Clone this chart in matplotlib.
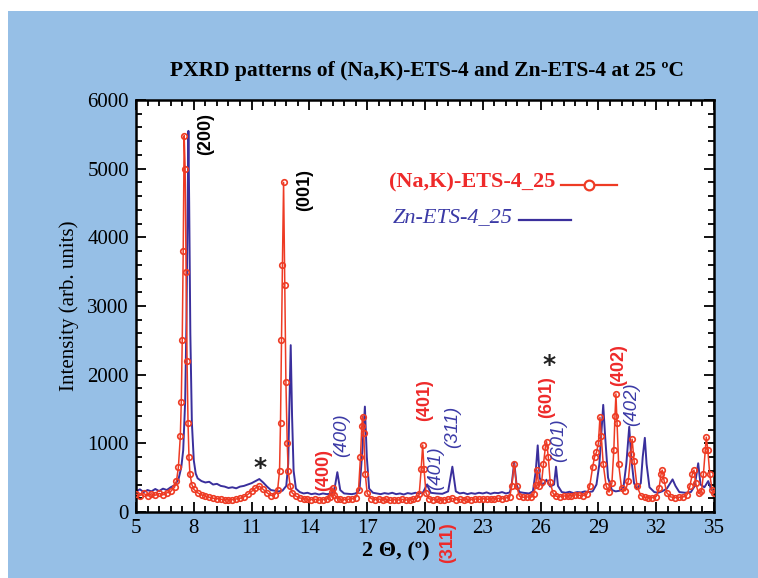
import matplotlib.pyplot as plt
from matplotlib.patches import Rectangle
from matplotlib.ticker import MultipleLocator

### (Na,K)-ETS-4_25
red_2theta = [5.0, 5.2, 5.4, 5.6, 5.8, 6.0, 6.2, 6.4, 6.6, 6.8, 7.0, 7.1, 7.2, 7.3, 7.35, 7.4, 7.45, 7.5,
              7.55, 7.6, 7.65, 7.7, 7.75, 7.8, 7.9, 8.0, 8.2, 8.4, 8.6, 8.8, 9.0, 9.2, 9.4, 9.6, 9.8,
              10.0, 10.2, 10.4, 10.6, 10.8, 11.0, 11.2, 11.4, 11.6, 11.8, 12.0, 12.2, 12.35, 12.45, 12.5,
              12.55, 12.6, 12.66, 12.72, 12.78, 12.85, 12.9, 13.0,
              13.1, 13.3, 13.5, 13.7, 13.9, 14.1, 14.3, 14.5, 14.7, 14.9, 15.05, 15.15, 15.22, 15.3, 15.45,
              15.6, 15.8, 16.0, 16.2, 16.4, 16.55, 16.65, 16.72, 16.76, 16.82, 16.9, 17.0,
              17.2, 17.4, 17.6, 17.8, 18.0, 18.2, 18.4, 18.6, 18.8, 19.0, 19.2, 19.4, 19.6, 19.7, 19.8,
              19.88, 19.95, 20.05, 20.2, 20.4, 20.6, 20.8, 21.0, 21.2, 21.4, 21.6, 21.8, 22.0, 22.2, 22.4,
              22.6, 22.8, 23.0, 23.2, 23.4, 23.6, 23.8, 24.0, 24.2, 24.4, 24.5, 24.63, 24.75, 24.9, 25.1,
              25.3, 25.5, 25.65, 25.75, 25.82, 25.9, 26.05, 26.15, 26.25, 26.31, 26.4, 26.5, 26.65, 26.8,
              27.0, 27.2, 27.4, 27.6, 27.8, 28.0, 28.2, 28.4, 28.55, 28.7, 28.8, 28.9, 29.0, 29.08, 29.15,
              29.25, 29.4, 29.55, 29.7, 29.8, 29.86, 29.91, 29.97, 30.05, 30.2, 30.4, 30.55, 30.68, 30.75,
              30.85, 31.0, 31.2, 31.4, 31.6, 31.8, 32.0, 32.15, 32.25, 32.31, 32.4, 32.55, 32.75, 33.0,
              33.2, 33.4, 33.6, 33.75, 33.88, 33.96, 34.05, 34.2, 34.35, 34.45, 34.55, 34.6, 34.68, 34.78,
              34.9, 35.0]
red_counts = [260, 240, 270, 235, 265, 245, 270, 250, 280, 300, 360, 450, 650, 1100, 1600, 2500, 3800, 5480,
              5000, 3500, 2200, 1300, 800, 550, 400, 330, 280, 250, 230, 215, 200, 195, 185, 180, 178,
              180, 190, 200, 220, 255, 300, 350, 375, 330, 280, 240, 250, 320, 600, 1300,
              2500, 3600, 4800, 3300, 1900, 1000, 600, 380,
              280, 230, 205, 195, 185, 180, 185, 175, 180, 190, 215, 290, 350, 250, 195,
              185, 180, 185, 190, 210, 320, 800, 1250, 1390, 1150, 550, 270,
              195, 180, 190, 175, 185, 170, 180, 175, 185, 175, 180, 190, 200, 260, 620,
              975, 620, 280, 195, 180, 185, 175, 180, 185, 200, 180, 185, 175, 185, 180,
              190, 185, 195, 185, 195, 190, 200, 195, 205, 220, 380, 700, 380, 230, 215,
              220, 215, 260, 400, 610, 380, 430, 700, 950, 1024, 800, 430, 270, 230,
              225, 235, 230, 240, 250, 245, 240, 260, 380, 650, 800, 870, 1000, 1380, 1100,
              700, 380, 290, 420, 900, 1400, 1720, 1300, 700, 350, 310, 450, 850, 1060,
              750, 380, 240, 215, 205, 210, 225, 350, 550, 610, 470, 280, 220, 210,
              215, 220, 250, 380, 560, 610, 420, 270, 300, 550, 900, 1090, 900, 550,
              320, 270]

### Zn-ETS-4_25
blue_2theta = [5.0, 5.2, 5.4, 5.6, 5.8, 6.0, 6.2, 6.4, 6.6, 6.8, 7.0, 7.2, 7.35, 7.45, 7.55, 7.62, 7.68,
               7.72, 7.76, 7.82, 7.9, 8.0, 8.1, 8.2, 8.4, 8.6, 8.8, 9.0, 9.2, 9.4, 9.6, 9.8, 10.0, 10.2,
               10.4, 10.6, 10.8, 11.0, 11.2, 11.4, 11.6, 11.8, 12.0, 12.2, 12.4, 12.6, 12.8, 12.9, 12.95,
               13.03, 13.1, 13.18, 13.3, 13.5, 13.7, 13.9, 14.1, 14.3, 14.5, 14.7, 14.9, 15.1, 15.3, 15.45,
               15.6, 15.8, 16.0, 16.2, 16.4, 16.6, 16.75, 16.88, 16.98, 17.1, 17.3, 17.5, 17.7, 17.9, 18.1,
               18.3, 18.5, 18.7, 18.9, 19.1, 19.3, 19.5, 19.7, 19.9, 20.1, 20.3, 20.6, 20.9, 21.2, 21.42,
               21.6, 21.8, 22.0, 22.2, 22.4, 22.6, 22.8, 23.0, 23.2, 23.4, 23.6, 23.8, 24.0, 24.2, 24.4,
               24.5, 24.63, 24.75, 24.9, 25.1, 25.4, 25.6, 25.75, 25.85, 25.95, 26.1, 26.3, 26.5, 26.7,
               26.8, 26.9, 27.1, 27.3, 27.5, 27.7, 27.9, 28.1, 28.3, 28.5, 28.7, 28.9, 29.05, 29.18, 29.25,
               29.35, 29.5, 29.7, 29.9, 30.1, 30.3, 30.45, 30.6, 30.7, 30.85, 31.0, 31.2, 31.3, 31.41, 31.5,
               31.65, 31.9, 32.1, 32.3, 32.55, 32.75, 32.85, 33.0, 33.2, 33.5, 33.8, 34.0, 34.18, 34.3,
               34.5, 34.7, 34.85, 35.0]
blue_counts = [300, 330, 290, 320, 300, 335, 305, 340, 320, 360, 390, 470, 650, 900, 1600, 2800, 4500,
               5550, 4500, 2600, 1300, 750, 560, 490, 450, 430, 440, 400, 410, 380, 370, 350, 360, 345,
               370, 380, 400, 420, 450, 480, 430, 370, 320, 310, 300, 310, 380, 700, 1400,
               2430, 1400, 600, 340, 290, 270, 280, 260, 270, 255, 270, 260, 265, 330, 580,
               320, 270, 265, 260, 270, 320, 900, 1535, 800, 340, 280, 270, 260, 275, 265,
               280, 260, 270, 255, 275, 265, 280, 270, 285, 400, 280, 270, 265, 300, 660,
               300, 270, 280, 260, 275, 265, 280, 270, 285, 265, 280, 275, 290, 270, 285,
               400, 730, 400, 290, 280, 270, 300, 600, 970, 500, 380, 470, 370, 400,
               660, 380, 290, 280, 295, 275, 290, 285, 300, 290, 300, 400, 700, 1250, 1560,
               1100, 500, 320, 300, 310, 360, 700, 1240, 800, 420, 330, 420, 800, 1080, 700,
               360, 290, 280, 300, 340, 430, 475, 380, 290, 280, 290, 380, 710, 400,
               360, 450, 330, 300]

### peak labels (Miller indices)
lab_text = ["(200)", "(001)", "(400)", "(400)", "(401)", "(401)", "(311)", "(311)",
            "(601)", "(601)", "(402)", "(402)"]
lab_x = [8.63, 13.77, 14.72, 15.67, 20.0, 20.55, 21.43, 21.2, 26.31, 26.92, 30.07, 30.72]
lab_y = [5505, 4690, 612, 1120, 1630, 640, 1240, -450, 1670, 1050, 2140, 1570]
lab_kind = ["black", "black", "red", "blue", "red", "blue", "blue", "red",
            "red", "blue", "red", "blue"]
star_x = [11.43, 26.43]
star_y = [640, 2140]
xticks = [5, 8, 11, 14, 17, 20, 23, 26, 29, 32, 35]

red = "#ee3b24"
blue = "#3a2f9c"
red_txt = "#ee2a2a"
blue_txt = "#3b3aa6"

fig = plt.figure(figsize=(7.58, 5.78), dpi=100)
fig.patch.set_facecolor("white")
bg = Rectangle((8 / 758, 0), 1, 567 / 578, transform=fig.transFigure,
               facecolor="#96bfe6", edgecolor="none", zorder=-10)
fig.add_artist(bg)

ax = fig.add_axes([136 / 758, 66 / 578, 578 / 758, 412 / 578])
ax.set_facecolor("white")

ax.plot(blue_2theta, blue_counts, color=blue, lw=1.4, zorder=2)
ax.plot(red_2theta, red_counts, color=red, lw=1.1, marker="o", ms=4, mfc="none", mew=1.2, zorder=3)

ax.set_xlim(5, 35)
ax.set_ylim(0, 6000)
ax.set_xticks(xticks)
ax.xaxis.set_minor_locator(MultipleLocator(0.6, offset=0.2))
ax.yaxis.set_major_locator(MultipleLocator(1000))
ax.yaxis.set_minor_locator(MultipleLocator(200))
ax.tick_params(which="both", direction="in", top=True, right=True, width=1.3)
ax.tick_params(which="major", length=7, labelsize=15, pad=5)
ax.tick_params(which="minor", length=4)
for t in ax.get_xticklabels() + ax.get_yticklabels():
    t.set_fontfamily("Liberation Serif")
for s in ax.spines.values():
    s.set_linewidth(1.8)

ax.set_ylabel("Intensity (arb. units)", fontsize=15, family="Liberation Serif", labelpad=6)
ax.text(0.45, -0.095, "2 \u0398, (\u00ba)", transform=ax.transAxes, ha="center", va="center",
        fontsize=16, fontweight="bold", family="Liberation Serif")
fig.text(427 / 758, 1 - 71 / 578, "PXRD patterns of (Na,K)-ETS-4 and Zn-ETS-4 at 25 \u00baC",
         ha="center", va="center", fontsize=15.5, fontweight="bold", family="Liberation Serif")

### peak labels
for t, x, y, k in zip(lab_text, lab_x, lab_y, lab_kind):
    if k == "blue":
        ax.text(x, y, t, rotation=90, ha="center", va="center", fontsize=13.5, color=blue_txt,
                family="Liberation Sans", style="italic", clip_on=False)
    else:
        c = red_txt if k == "red" else "black"
        ax.text(x, y, t, rotation=90, ha="center", va="center", fontsize=13, color=c,
                family="Liberation Sans", fontweight="bold", clip_on=False)
for x, y in zip(star_x, star_y):
    ax.text(x, y, "*", ha="center", va="center", fontsize=18, fontweight="bold", color="#222222")

### legend drawn by hand: label first, then the line sample
ax.text(0.725, 0.799, "(Na,K)-ETS-4_25", transform=ax.transAxes, ha="right", va="center",
        fontsize=16, fontweight="bold", color=red_txt, family="Liberation Serif")
ax.plot([0.735, 0.832], [0.793, 0.793], transform=ax.transAxes, color=red, lw=1.6)
ax.plot([0.784], [0.793], transform=ax.transAxes, color=red, marker="o", ms=7, mfc="white", mew=1.6)
ax.text(0.652, 0.714, "Zn-ETS-4_25", transform=ax.transAxes, ha="right", va="center",
        fontsize=16, style="italic", color=blue_txt, family="Liberation Serif")
ax.plot([0.663, 0.753], [0.708, 0.708], transform=ax.transAxes, color=blue, lw=1.6)

fig.savefig("out.png", dpi=100)
